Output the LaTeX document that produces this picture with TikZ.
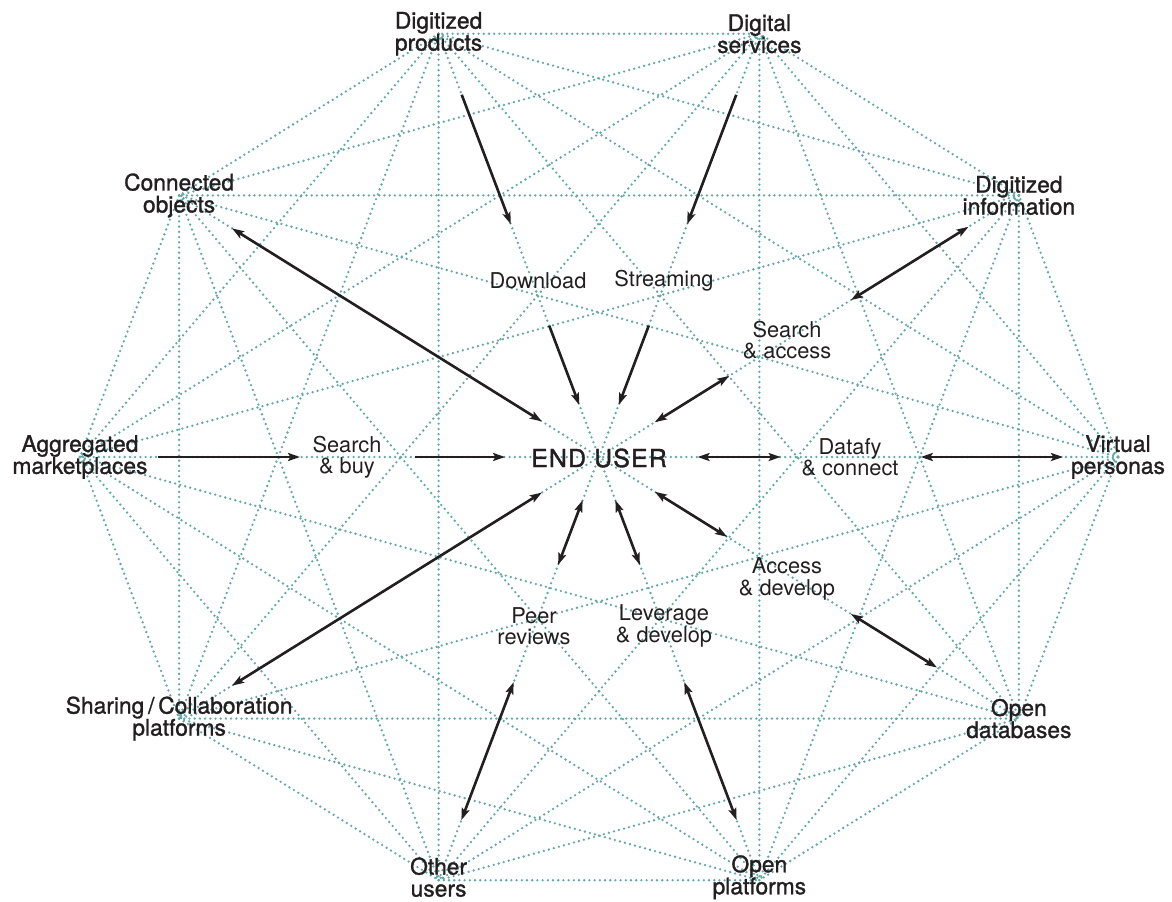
\documentclass[tikz,border=0pt]{standalone}
\usepackage{fontspec}
\setmainfont{TeX Gyre Heros}
\newfontfamily\medfont{TeX Gyre Heros}[FakeBold=1.2]
\newfontfamily\heavyfont{TeX Gyre Heros}[FakeBold=1.5,LetterSpace=5]
\usepackage{tikz}
\usetikzlibrary{calc,arrows.meta}
\definecolor{dotteal}{RGB}{100,168,166}
\definecolor{inkgray}{RGB}{35,31,32}

\begin{document}
\begin{tikzpicture}[x=0.5pt, y=0.5pt,
  >={Stealth[length=6pt,width=4pt,inset=1.2pt]},
  link/.style={dotteal, line width=1.3pt, line cap=round, dash pattern=on 0pt off 2.6pt},
  flow/.style={inkgray, line width=1.3pt},
  hub/.style={text=inkgray, align=center, inner sep=0pt, font=\medfont\fontsize{11.4}{11}\selectfont},
  mid/.style={text=inkgray, align=center, inner sep=0pt, font=\fontsize{10.9}{10.6}\selectfont}]
  \useasboundingbox (-599,-444) rectangle (573,457);
  \coordinate (c) at (0,0);
  % decagon corners, counter-clockwise from the right
  \foreach \n in {1,...,10}
    \coordinate (v\n) at ({519*cos(36*(\n-1))},{445*sin(36*(\n-1))});
  \foreach \i in {1,...,9}{
    \pgfmathtruncatemacro{\nxt}{\i+1}
    \foreach \j in {\nxt,...,10} \draw[link] (v\i) -- (v\j);
  }
  \node[hub] (vp) at (v1) {Virtual\\personas};
  \node[hub] (di) at (v2) {Digitized\\information};
  \node[hub] (ds) at (v3) {Digital\\services};
  \node[hub] (dp) at (v4) {Digitized\\products};
  \node[hub] (co) at (v5) {Connected\\objects};
  \node[hub] (am) at (v6) {Aggregated\\marketplaces};
  \node[hub] (sc) at (v7) {Sharing\,/\,Collaboration\\platforms};
  \node[hub] (ou) at ($(v8)+(0,3)$) {Other\\users};
  \node[hub] (op) at ($(v9)+(0,3)$) {Open\\platforms};
  \node[hub] (od) at (v10) {Open\\databases};
  \node[text=inkgray, inner sep=0pt, font=\heavyfont\fontsize{12.4}{12}\selectfont] (user) at (0,-1) {END USER};
  \node[mid] (dl) at (-61,176) {Download};
  \node[mid] (st) at (65,176) {Streaming};
  \node[mid] (sa) at (188,117) {Search\\\& access};
  \node[mid] (dc) at (251,0) {Datafy\\\& connect};
  \node[mid] (ad) at (188,-122) {Access\\\& develop};
  \node[mid] (ld) at (65,-169) {Leverage\\\& develop};
  \node[mid] (pr) at (-65,-169) {Peer\\reviews};
  \node[mid] (sb) at (-252,0) {Search\\\& buy};
  % arrows towards the end user
  \draw[flow,->] ($(v4)!.144!(c)$) -- ($(v4)!.45!(c)$);
  \draw[flow,->] ($(v4)!.69!(c)$) -- ($(v4)!.877!(c)$);
  \draw[flow,->] ($(v3)!.144!(c)$) -- ($(v3)!.45!(c)$);
  \draw[flow,->] ($(v3)!.69!(c)$) -- ($(v3)!.877!(c)$);
  \draw[flow,<->] ($(v2)!.12!(c)$) -- ($(v2)!.40!(c)$);
  \draw[flow,<->] ($(v2)!.69!(c)$) -- ($(v2)!.867!(c)$);
  \draw[flow,<->] ($(v1)!.106!(c)$) -- ($(v1)!.38!(c)$);
  \draw[flow,<->] ($(v1)!.65!(c)$) -- ($(v1)!.81!(c)$);
  \draw[flow,<->] ($(v10)!.195!(c)$) -- ($(v10)!.40!(c)$);
  \draw[flow,<->] ($(v10)!.695!(c)$) -- ($(v10)!.867!(c)$);
  \draw[flow,<->] ($(v9)!.142!(c)$) -- ($(v9)!.468!(c)$);
  \draw[flow,<->] ($(v9)!.745!(c)$) -- ($(v9)!.898!(c)$);
  \draw[flow,<->] ($(v8)!.142!(c)$) -- ($(v8)!.468!(c)$);
  \draw[flow,<->] ($(v8)!.745!(c)$) -- ($(v8)!.898!(c)$);
  \draw[flow,<->] ($(v7)!.126!(c)$) -- ($(v7)!.864!(c)$);
  \draw[flow,->] ($(v6)!.15!(c)$) -- ($(v6)!.424!(c)$);
  \draw[flow,->] ($(v6)!.645!(c)$) -- ($(v6)!.819!(c)$);
  \draw[flow,<->] ($(v5)!.126!(c)$) -- ($(v5)!.864!(c)$);
\end{tikzpicture}
\end{document}
